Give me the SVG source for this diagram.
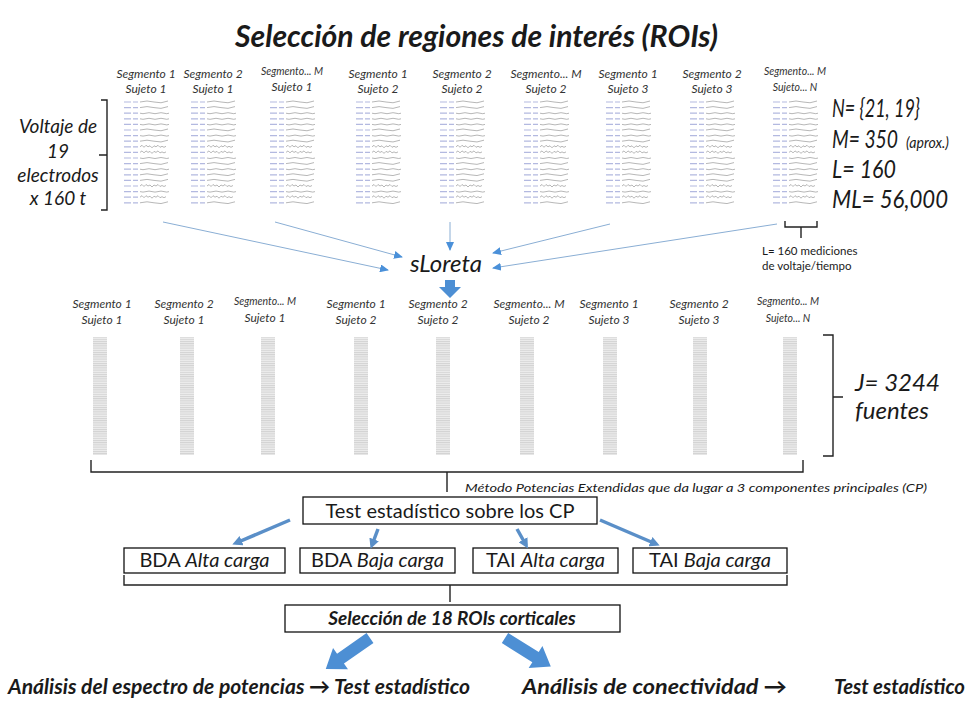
<svg xmlns="http://www.w3.org/2000/svg" xmlns:xlink="http://www.w3.org/1999/xlink" width="976" height="704" viewBox="0 0 976 704">
<style>
text{font-family:Lato,'Liberation Sans','DejaVu Sans',sans-serif;fill:#1a1a1a}
.lbl{font-style:italic;font-size:12px;fill:#333;text-anchor:middle}
.lbls{font-style:italic;font-size:10.5px;fill:#333;text-anchor:middle}
.big{font-style:italic;font-size:26px}
.bb{font-size:21px;font-weight:bold;font-style:italic}
.box{fill:#fff;stroke:#111;stroke-width:1.3}
.brk{fill:none;stroke:#222;stroke-width:1.4}
.thin{stroke:#8aaed4;stroke-width:1;fill:none;marker-end:url(#ah)}
.thick{stroke:#5a8fc8;stroke-width:3.5;fill:none;marker-end:url(#ah2)}
.fat{fill:#4d8fd4}
.num{stroke:#b3b9e0;stroke-width:1.2;fill:none}
.wave{stroke:#a5a5a5;stroke-width:0.8;fill:none}
.src{fill:url(#srcpat)}
</style>
<defs>
<marker id="ah" markerUnits="userSpaceOnUse" markerWidth="9" markerHeight="8" refX="8" refY="4" orient="auto"><path d="M0,0 L9,4 L0,8 z" fill="#4a90d9"/></marker>
<marker id="ah2" markerUnits="userSpaceOnUse" markerWidth="10" markerHeight="10" refX="6" refY="5" orient="auto"><path d="M0,0 L10,5 L0,10 z" fill="#5a8fc8"/></marker>
<pattern id="srcpat" width="14" height="2.2" patternUnits="userSpaceOnUse"><rect width="14" height="2.2" fill="#ededed"/><rect width="14" height="1" fill="#d2d2d2"/></pattern>
<g id="eeg">
<path class="num" d="M0,0h7M9,0h5M0,5.6h7M9,5.6h5M0,11.2h7M9,11.2h5M0,16.8h7M9,16.8h5M0,22.4h7M9,22.4h5M0,28h7M9,28h5M0,33.6h7M9,33.6h5M0,39.2h7M9,39.2h5M0,44.8h7M9,44.8h5M0,50.4h7M9,50.4h5M0,56h7M9,56h5M0,61.6h7M9,61.6h5M0,67.2h7M9,67.2h5M0,72.8h7M9,72.8h5M0,78.4h7M9,78.4h5M0,84h7M9,84h5M0,89.6h7M9,89.6h5M0,95.2h7M9,95.2h5M0,100.8h7M9,100.8h5"/>
<path class="wave" d="M16,0q7,-2 14,0t14,-1M16,5.6q7,-2 14,0t14,-1M16,11.2q3,1 6,0t6,0t6,0t6,0t5,0M16,16.8q3,1 6,0t6,0t6,0t6,0t5,0M16,22.4q3,1 6,0t6,0t6,0t6,0t5,0M16,28q7,-2 14,0t14,-1M16,33.6q3,1 6,0t6,0t6,0t6,0t5,0M16,39.2q7,-2 14,0t14,-1M16,44.8l2,-1.5 2,2 2,-2 2,1.5 2,-1 2,2 2,-2 2,1 2,-1.5 2,2 2,-1 2,1 2,-1M16,50.4l2,-1.5 2,2 2,-2 2,1.5 2,-1 2,2 2,-2 2,1 2,-1.5 2,2 2,-1 2,1 2,-1M16,56q3,1 6,0t6,0t6,0t6,0t5,0M16,61.6q7,-2 14,0t14,-1M16,67.2q3,1 6,0t6,0t6,0t6,0t5,0M16,72.8q7,-2 14,0t14,-1M16,78.4q7,-2 14,0t14,-1M16,84l2,-1.5 2,2 2,-2 2,1.5 2,-1 2,2 2,-2 2,1 2,-1.5 2,2 2,-1 2,1 2,-1M16,89.6q3,1 6,0t6,0t6,0t6,0t5,0M16,95.2l2,-1.5 2,2 2,-2 2,1.5 2,-1 2,2 2,-2 2,1 2,-1.5 2,2 2,-1 2,1 2,-1M16,100.8q7,-2 14,0t14,-1"/>
</g>
</defs>
<rect width="976" height="704" fill="#fff"/>

<g id="title"><text x="235" y="47" font-size="30" font-weight="bold" font-style="italic" textLength="483" lengthAdjust="spacingAndGlyphs">Selección de regiones de interés (ROIs)</text></g>

<g id="voltaje-label">
<text x="58" y="133" font-size="19" font-style="italic" text-anchor="middle">Voltaje de</text>
<text x="58" y="158" font-size="19" font-style="italic" text-anchor="middle">19</text>
<text x="58" y="182" font-size="19" font-style="italic" text-anchor="middle">electrodos</text>
<text x="58" y="205" font-size="19" font-style="italic" text-anchor="middle">x 160 t</text>
</g>

<g id="params">
<text class="big" x="832" y="117" textLength="88" lengthAdjust="spacingAndGlyphs">N= {21, 19}</text>
<text class="big" x="832" y="148" textLength="66" lengthAdjust="spacingAndGlyphs">M= 350</text>
<text x="906" y="148" font-size="16" font-style="italic" textLength="43" lengthAdjust="spacingAndGlyphs">(aprox.)</text>
<text class="big" x="832" y="178" textLength="64" lengthAdjust="spacingAndGlyphs">L= 160</text>
<text class="big" x="832" y="208" textLength="116" lengthAdjust="spacingAndGlyphs">ML= 56,000</text>
</g>

<g id="top-s1-suj1"><text class="lbl" x="146" y="78">Segmento 1</text><text class="lbl" x="146" y="93">Sujeto 1</text><use href="#eeg" x="124" y="102"/></g>
<g id="top-s2-suj1"><text class="lbl" x="213" y="78">Segmento 2</text><text class="lbl" x="213" y="93">Sujeto 1</text><use href="#eeg" x="191" y="102"/></g>
<g id="top-sM-suj1"><text class="lbls" x="292" y="75">Segmento... M</text><text class="lbl" x="292" y="91">Sujeto 1</text><use href="#eeg" x="270" y="102"/></g>
<g id="top-s1-suj2"><text class="lbl" x="378" y="78">Segmento 1</text><text class="lbl" x="378" y="93">Sujeto 2</text><use href="#eeg" x="356" y="102"/></g>
<g id="top-s2-suj2"><text class="lbl" x="462" y="78">Segmento 2</text><text class="lbl" x="462" y="93">Sujeto 2</text><use href="#eeg" x="440" y="102"/></g>
<g id="top-sM-suj2"><text class="lbl" x="546" y="78">Segmento... M</text><text class="lbl" x="546" y="93">Sujeto 2</text><use href="#eeg" x="524" y="102"/></g>
<g id="top-s1-suj3"><text class="lbl" x="628" y="78">Segmento 1</text><text class="lbl" x="628" y="93">Sujeto 3</text><use href="#eeg" x="606" y="102"/></g>
<g id="top-s2-suj3"><text class="lbl" x="712" y="78">Segmento 2</text><text class="lbl" x="712" y="93">Sujeto 3</text><use href="#eeg" x="690" y="102"/></g>
<g id="top-sM-sujN"><text class="lbls" x="795" y="75">Segmento... M</text><text class="lbls" x="795" y="91">Sujeto... N</text><use href="#eeg" x="773" y="102"/></g>

<g id="l-note"><text x="762" y="255" font-size="11.5" fill="#333">L= 160 mediciones</text><text x="762" y="270" font-size="11.5" fill="#333">de voltaje/tiempo</text></g>

<g id="sloreta"><text x="446" y="272" font-size="24" font-style="italic" text-anchor="middle">sLoreta</text></g>

<g id="mid-s1-suj1"><text class="lbl" x="102" y="308">Segmento 1</text><text class="lbl" x="102" y="324">Sujeto 1</text><rect class="src" x="93" y="337" width="14" height="118"/></g>
<g id="mid-s2-suj1"><text class="lbl" x="184" y="308">Segmento 2</text><text class="lbl" x="184" y="324">Sujeto 1</text><rect class="src" x="180" y="337" width="14" height="118"/></g>
<g id="mid-sM-suj1"><text class="lbls" x="265" y="305">Segmento... M</text><text class="lbl" x="265" y="322">Sujeto 1</text><rect class="src" x="261" y="337" width="14" height="118"/></g>
<g id="mid-s1-suj2"><text class="lbl" x="356" y="308">Segmento 1</text><text class="lbl" x="356" y="324">Sujeto 2</text><rect class="src" x="354" y="337" width="14" height="118"/></g>
<g id="mid-s2-suj2"><text class="lbl" x="438" y="308">Segmento 2</text><text class="lbl" x="438" y="324">Sujeto 2</text><rect class="src" x="436" y="337" width="14" height="118"/></g>
<g id="mid-sM-suj2"><text class="lbl" x="529" y="308">Segmento... M</text><text class="lbl" x="529" y="324">Sujeto 2</text><rect class="src" x="520" y="337" width="14" height="118"/></g>
<g id="mid-s1-suj3"><text class="lbl" x="609" y="308">Segmento 1</text><text class="lbl" x="609" y="324">Sujeto 3</text><rect class="src" x="603" y="337" width="14" height="118"/></g>
<g id="mid-s2-suj3"><text class="lbl" x="699" y="308">Segmento 2</text><text class="lbl" x="699" y="324">Sujeto 3</text><rect class="src" x="693" y="337" width="14" height="118"/></g>
<g id="mid-sM-sujN"><text class="lbls" x="788" y="305">Segmento... M</text><text class="lbls" x="788" y="322">Sujeto... N</text><rect class="src" x="783" y="337" width="14" height="118"/></g>

<g id="fuentes"><text x="855" y="391" font-size="24" font-style="italic">J= 3244</text><text x="855" y="419" font-size="24" font-style="italic">fuentes</text></g>

<g id="metodo"><text x="465" y="492" font-size="12" font-style="italic" fill="#333" textLength="462" lengthAdjust="spacingAndGlyphs">Método Potencias Extendidas que da lugar a  3 componentes principales (CP)</text></g>

<g id="test-cp"><rect class="box" x="303" y="497" width="294" height="27"/><text x="450" y="518" font-size="20" text-anchor="middle">Test estadístico sobre los CP</text></g>
<g id="bda-alta"><rect class="box" x="124" y="548" width="161" height="25"/><text x="204.5" y="567" font-size="20" text-anchor="middle">BDA <tspan font-style="italic">Alta carga</tspan></text></g>
<g id="bda-baja"><rect class="box" x="300" y="548" width="155" height="25"/><text x="377.5" y="567" font-size="20" text-anchor="middle">BDA <tspan font-style="italic">Baja carga</tspan></text></g>
<g id="tai-alta"><rect class="box" x="473" y="548" width="145" height="25"/><text x="545.5" y="567" font-size="20" text-anchor="middle">TAI <tspan font-style="italic">Alta carga</tspan></text></g>
<g id="tai-baja"><rect class="box" x="633" y="548" width="154" height="25"/><text x="710" y="567" font-size="20" text-anchor="middle">TAI <tspan font-style="italic">Baja carga</tspan></text></g>
<g id="rois"><rect class="box" x="285" y="605" width="335" height="27"/><text x="452" y="625" font-size="19" font-weight="bold" font-style="italic" text-anchor="middle">Selección de 18 ROIs corticales</text></g>

<g id="espectro"><text class="bb" x="8" y="694" textLength="462" lengthAdjust="spacingAndGlyphs">Análisis del espectro de potencias → Test estadístico</text></g>
<g id="conectividad"><text class="bb" x="522" y="694" textLength="265" lengthAdjust="spacingAndGlyphs">Análisis de conectividad →</text><text class="bb" x="834" y="694" textLength="131" lengthAdjust="spacingAndGlyphs">Test estadístico</text></g>

<g id="brackets">
<path class="brk" d="M101,100H107V210H101M107,155H99"/>
<path class="brk" d="M785,221V227H817V221M801,227V238"/>
<path class="brk" d="M823,335H833V456H823M833,397H843"/>
<path class="brk" d="M91,460V472H803V460M447,472V492"/>
<path class="brk" d="M124,575V585H787V575M450,585V602"/>
</g>

<g id="connectors">
<line class="thin" x1="163" y1="222" x2="388" y2="270"/>
<line class="thin" x1="275" y1="222" x2="402" y2="257"/>
<line class="thin" x1="450" y1="222" x2="450" y2="250"/>
<line class="thin" x1="610" y1="224" x2="493" y2="253"/>
<line class="thin" x1="777" y1="224" x2="493" y2="268"/>
<polygon class="fat" points="445,280 455,280 455,287 461,287 450,298 439,287 445,287"/>
<line class="thick" x1="290" y1="520" x2="236" y2="543"/>
<line class="thick" x1="378" y1="529" x2="372" y2="545"/>
<line class="thick" x1="517" y1="529" x2="526" y2="545"/>
<line class="thick" x1="600" y1="520" x2="656" y2="544"/>
<polygon class="fat" transform="translate(370,638) rotate(55)" points="-6,0 6,0 6,36 13,36 0,54 -13,36 -6,36"/>
<polygon class="fat" transform="translate(505,638) rotate(-58)" points="-6,0 6,0 6,36 13,36 0,54 -13,36 -6,36"/>
</g>
</svg>
